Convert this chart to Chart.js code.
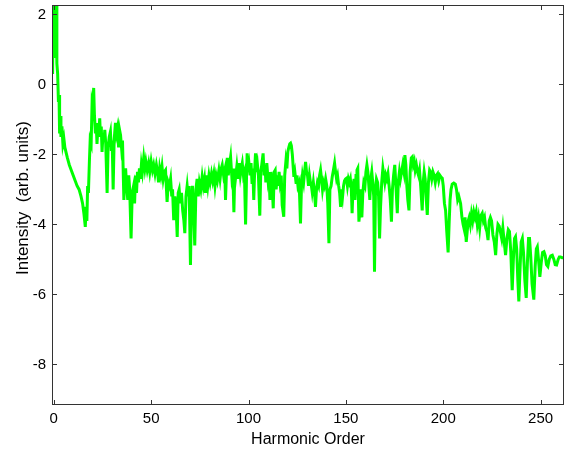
<!DOCTYPE html>
<html>
<head>
<meta charset="utf-8">
<script src="https://cdn.jsdelivr.net/npm/chart.js@4/dist/chart.umd.min.js"></script>
<style>
  body { margin: 0; background: #fff; }
  canvas { display: block; }
</style>
</head>
<body>
<canvas id="myChart" width="566" height="451"></canvas>
<script>
// values
const harmonic = [
  -0.6, -0.3, 0.2, 0.5, 0.9, 1.2, 1.6, 2.0, 2.4, 2.7,
  3.0, 3.3, 3.7, 4.2, 4.7, 5.2, 5.7, 7, 8, 9,
  10, 11, 12, 13, 14, 14.8, 15.5, 16.2, 16.6, 17,
  17.4, 17.8, 18.3, 18.7, 19.2, 19.7, 20.1, 20.5, 20.9, 21.4,
  21.8, 22.2, 22.6, 23.0, 23.6, 24.0, 24.4, 24.8, 25.3, 25.8,
  26.2, 26.7, 27.4, 27.9, 28.5, 29.1, 29.6, 30.0, 30.5, 31.0,
  31.7, 32.2, 32.7, 33.3, 33.8, 34.3, 34.8, 35.3, 36.0, 36.5,
  36.9, 37.4, 38.0, 38.5, 39.0, 39.7, 40.3, 41.0, 41.5, 42.0,
  42.5, 43.0, 43.5, 44.0, 44.5, 45.0, 45.5, 46.2, 46.8, 47.3,
  48.0, 48.7, 49.3, 50.0, 50.7, 51.3, 52.0, 52.7, 53.3, 53.8,
  54.4, 55.0, 55.6, 56.2, 56.8, 57.4, 58.2, 58.8, 59.4, 60.0,
  60.6, 61.0, 61.6, 62.2, 62.8, 63.4, 63.9, 64.4, 65.0, 65.6,
  66.2, 66.8, 67.3, 67.9, 68.5, 69.0, 69.5, 70.2, 70.7, 71.2,
  71.8, 72.4, 73.0, 73.6, 74.2, 74.8, 75.5, 76.2, 76.8, 77.4,
  77.9, 78.5, 79.1, 79.7, 80.3, 81.0, 81.6, 82.2, 82.8, 83.4,
  84.0, 84.8, 85.4, 86.0, 86.5, 87.2, 87.8, 88.2, 88.7, 89.1,
  89.6, 90.2, 90.8, 91.4, 91.9, 92.5, 93.0, 93.5, 94.0, 94.6,
  95.2, 95.8, 96.3, 96.8, 97.4, 97.9, 98.5, 99.0, 99.3, 99.8,
  100.3, 100.8, 101.3, 101.8, 102.2, 102.7, 103.2, 103.6, 104.1, 104.6,
  105.1, 105.8, 106.3, 106.8, 107.5, 108.0, 108.5, 108.9, 109.4, 110.0,
  110.5, 111.0, 111.5, 112.0, 112.7, 113.2, 113.7, 114.2, 114.7, 115.2,
  115.7, 116.2, 116.8, 117.3, 118.1, 118.6, 119.2, 119.7, 120.2, 120.7,
  121.2, 121.6, 122.0, 122.5, 123.0, 123.3, 123.8, 124.4, 124.9, 125.4,
  126.0, 126.7, 127.2, 127.7, 128.3, 128.8, 129.3, 129.8, 130.3, 130.8,
  131.3, 131.8, 132.3, 132.7, 133.3, 133.9, 134.4, 134.9, 135.4, 136.0,
  136.5, 137.0, 137.5, 138.0, 138.5, 139.0, 139.6, 140.2, 140.7, 141.3,
  141.8, 142.4, 143.0, 143.6, 144.2, 144.7, 145.2, 145.7, 146.3, 146.8,
  147.3, 147.8, 148.3, 148.8, 149.3, 149.8, 150.3, 150.8, 151.3, 151.8,
  152.3, 152.8, 153.2, 153.7, 154.2, 154.7, 155.2, 155.7, 156.1, 156.7,
  157.2, 157.7, 158.2, 158.7, 159.2, 159.8, 160.3, 160.8, 161.3, 161.8,
  162.3, 162.8, 163.3, 163.8, 164.3, 164.7, 165.2, 165.7, 166.3, 166.8,
  167.3, 167.8, 168.4, 169.0, 169.5, 170.0, 170.5, 171.0, 171.6, 172.2,
  172.8, 173.4, 173.9, 174.5, 175.1, 175.7, 176.4, 176.9, 177.5, 178.0,
  178.6, 179.2, 179.8, 180.3, 180.8, 181.3, 181.8, 182.4, 183.0, 183.6,
  184.1, 184.6, 185.1, 185.6, 186.2, 186.8, 187.3, 187.8, 188.4, 189.2,
  189.7, 190.2, 190.7, 191.2, 191.8, 192.4, 193.0, 193.5, 194.1, 194.7,
  195.3, 195.9, 196.5, 197.1, 197.7, 198.3, 198.9, 199.5, 200.0, 200.6,
  201.2, 201.8, 202.5, 203.0, 203.5, 204.0, 204.6, 205.4, 206.2, 206.8,
  207.4, 208.0, 208.9, 209.6, 210.2, 210.6, 211.2, 211.8, 212.3, 212.8,
  213.3, 213.9, 214.5, 215.1, 215.7, 216.3, 216.9, 217.5, 218.1, 218.7,
  219.3, 220.0, 220.6, 221.2, 221.8, 222.4, 223.0, 223.6, 224.2, 224.8,
  225.5, 226.2, 226.9, 227.5, 228.1, 228.7, 229.3, 230.0, 230.6, 231.3,
  232.0, 232.7, 233.4, 234.0, 234.7, 235.4, 236.0, 236.6, 237.1, 237.7,
  238.3, 238.8, 239.4, 240.0, 240.6, 241.2, 241.9, 242.6, 243.2, 243.8,
  244.3, 244.9, 245.6, 246.5, 247.2, 247.8, 248.3, 248.9, 249.6, 250.3,
  251.0, 251.7, 252.4, 253.0, 253.7, 254.4, 255.2, 256.0, 256.8, 257.5,
  258.2, 259.0, 259.6, 260.2, 261.0, 262.0
]
const intensity = [
  0.3, 2.4, 0.8, 2.4, 1.2, 2.4, 0.6, 0.3, -0.5, -0.3,
  -1.4, -0.9, -1.5, -1.2, -1.7, -1.55, -1.8, -2.1, -2.3, -2.45,
  -2.6, -2.75, -2.9, -3.0, -3.2, -3.4, -3.7, -4.07, -3.5, -3.9,
  -2.9, -3.1, -2.2, -1.6, -1.7, -0.5, -0.6, -0.1, -0.9, -1.4,
  -1.1, -1.7, -1.3, -1.5, -0.97, -1.5, -1.2, -1.93, -1.4, -1.6,
  -1.3, -1.7, -3.1, -1.8, -1.5, -1.35, -1.9, -1.6, -3.0, -1.6,
  -1.1, -1.4, -1.25, -1.8, -1.3, -1.45, -1.8, -1.6, -3.3, -2.6,
  -2.4, -2.9, -3.3, -2.6, -3.0, -4.4, -3.1, -2.9, -3.4, -2.6,
  -3.1, -2.5, -2.8, -2.4, -2.7, -2.3, -2.5, -2.1, -2.4, -2.2,
  -2.45, -2.25, -2.5, -2.2, -2.45, -2.3, -2.55, -2.3, -2.5, -2.8,
  -2.4, -2.6, -2.35, -2.7, -2.5, -2.45, -3.36, -2.8, -2.9, -2.7,
  -3.2, -3.0, -3.88, -3.2, -3.5, -4.36, -3.1, -3.0, -3.4, -3.1,
  -3.6, -3.88, -4.25, -3.2, -2.9, -3.2, -2.9, -5.16, -3.4, -2.9,
  -3.5, -4.6, -3.0, -2.7, -3.2, -2.8, -3.0, -2.64, -2.9, -2.7,
  -3.1, -2.6, -2.9, -2.6, -2.8, -2.55, -2.75, -2.55, -2.9, -2.6,
  -2.75, -2.45, -2.7, -2.4, -2.3, -2.6, -2.45, -3.3, -2.5, -2.1,
  -2.6, -2.3, -2.07, -2.6, -2.4, -3.65, -2.4, -2.6, -2.35, -2.7,
  -2.25, -2.6, -2.4, -2.25, -2.6, -2.5, -4.0, -2.6, -1.97, -2.5,
  -2.3, -2.6, -2.25, -2.8, -2.4, -3.3, -2.4, -1.97, -2.5, -2.3,
  -2.6, -3.75, -2.5, -2.3, -1.97, -2.6, -2.3, -2.8, -2.25, -2.7,
  -2.5, -3.3, -2.5, -2.7, -3.54, -2.5, -2.45, -3.0, -2.6, -2.9,
  -2.5, -2.8, -2.6, -3.45, -3.78, -2.6, -2.2, -2.4, -1.92, -1.8,
  -1.7, -1.68, -1.75, -2.0, -2.4, -2.64, -2.5, -2.8, -2.6, -2.9,
  -2.8, -3.97, -2.9, -2.6, -2.8, -2.5, -2.21, -2.5, -2.6, -2.9,
  -2.6, -2.8, -2.9, -3.07, -2.8, -3.1, -3.5, -3.0, -2.8, -2.9,
  -2.6, -2.45, -2.7, -3.0, -2.8, -2.9, -2.7, -2.9, -3.4, -4.54,
  -3.0, -2.9, -2.64, -2.45, -2.25, -2.5, -2.7, -2.6, -2.9, -3.1,
  -3.5, -3.0, -3.2, -2.9, -2.75, -2.7, -2.68, -2.9, -2.7, -2.8,
  -2.7, -3.0, -3.68, -2.9, -2.7, -3.3, -2.6, -2.45, -2.4, -3.92,
  -3.6, -3.0, -3.8, -3.1, -2.8, -2.9, -2.5, -2.3, -2.5, -2.9,
  -3.3, -2.7, -2.5, -2.8, -3.2, -5.35, -3.0, -2.7, -2.8, -3.2,
  -4.4, -3.5, -2.8, -2.4, -2.6, -2.8, -2.6, -2.7, -2.55, -2.9,
  -3.3, -3.92, -3.0, -2.6, -2.3, -2.9, -3.68, -2.8, -2.5, -2.7,
  -2.5, -2.3, -2.5, -2.02, -2.3, -2.9, -3.3, -3.6, -2.5, -2.1,
  -2.07, -2.3, -2.2, -2.45, -2.3, -2.5, -2.6, -2.45, -2.9, -3.6,
  -2.8, -2.5, -2.7, -3.2, -3.73, -2.8, -2.45, -2.5, -2.7, -2.5,
  -2.6, -2.8, -2.6, -2.55, -2.75, -2.6, -2.65, -2.68, -2.9, -3.4,
  -3.6, -4.2, -4.8, -4.0, -3.3, -3.0, -2.85, -2.82, -2.85, -3.0,
  -3.3, -3.2, -3.4, -3.8, -4.0, -4.1, -3.8, -4.5, -4.2, -3.9,
  -3.8, -4.0, -3.7, -3.9, -3.65, -3.8, -3.65, -4.0, -3.8, -4.1,
  -3.75, -3.68, -3.9, -3.8, -4.1, -4.2, -4.45, -3.9, -3.8, -3.9,
  -4.3, -4.5, -4.88, -4.3, -4.0, -4.05, -4.2, -4.4, -4.1, -4.5,
  -4.88, -4.4, -4.15, -4.2, -4.8, -5.88, -5.0, -4.4, -4.35, -4.7,
  -5.6, -6.2, -5.3, -4.5, -4.4, -4.8, -5.6, -6.1, -5.1, -4.4,
  -4.4, -4.9, -5.7, -6.15, -5.2, -4.7, -4.64, -5.0, -5.5, -5.1,
  -4.8, -4.78, -4.9, -5.15, -5.2, -5.0, -4.9, -4.88, -5.0, -5.15,
  -5.16, -5.0, -4.93, -4.93, -4.95, -4.95
]
const xTicks = [0, 50, 100, 150, 200, 250]
const yTicks = [-8, -6, -4, -2, 0, 2]
const xLabel = 'Harmonic Order'
const yLabel = 'Intensity  (arb. units)'

const points = harmonic.map((h, i) => ({x: h, y: intensity[i]}))

// frame, inward ticks on all four sides and the axis titles
const framePlugin = {
    id: 'frame',
    afterDraw(chart) {
        const ctx = chart.ctx
        const a = chart.chartArea
        const sx = chart.scales.x
        const sy = chart.scales.y
        ctx.save()
        ctx.strokeStyle = '#333'
        ctx.lineWidth = 1
        ctx.strokeRect(a.left + 0.5, a.top + 0.5, a.right - a.left - 1, a.bottom - a.top - 1)
        ctx.beginPath()
        xTicks.forEach(v => {
            const px = Math.round(sx.getPixelForValue(v)) + 0.5
            ctx.moveTo(px, a.bottom); ctx.lineTo(px, a.bottom - 5)
            ctx.moveTo(px, a.top); ctx.lineTo(px, a.top + 5)
        })
        yTicks.forEach(v => {
            const py = Math.round(sy.getPixelForValue(v)) + 0.5
            ctx.moveTo(a.left, py); ctx.lineTo(a.left + 5, py)
            ctx.moveTo(a.right, py); ctx.lineTo(a.right - 5, py)
        })
        ctx.stroke()

        ctx.fillStyle = '#000'
        ctx.font = '16px "Liberation Sans", Arial, sans-serif'
        ctx.textAlign = 'center'
        ctx.textBaseline = 'alphabetic'
        ctx.fillText(xLabel, (a.left + a.right) / 2, 444)

        ctx.translate(28, 198)
        ctx.rotate(-Math.PI / 2)
        ctx.font = '17px "Liberation Sans", Arial, sans-serif'
        ctx.fillText(yLabel, 0, 0)
        ctx.restore()
    }
}

const ctxEL = document.getElementById('myChart').getContext('2d')
new Chart(ctxEL, {
    type: 'line',
    data: {
        datasets: [{
            label: 'spectrum',
            data: points,
            borderColor: '#00ff00',
            borderWidth: 3,
            pointRadius: 0,
            tension: 0,
            fill: false,
            clip: 0,
            borderJoinStyle: 'miter'
        }]
    },
    options: {
        responsive: false,
        animation: false,
        layout: {padding: {top: 5, right: 2, left: 0, bottom: 0}},
        plugins: {legend: {display: false}, tooltip: {enabled: false}},
        scales: {
            x: {
                type: 'linear',
                min: -0.9,
                max: 262,
                grid: {display: false, drawTicks: false},
                border: {display: false},
                afterFit: s => {
                    s.height = 46
                    s.paddingLeft = 0
                    s.paddingRight = 0
                },
                afterBuildTicks: s => { s.ticks = xTicks.map(v => ({value: v})) },
                ticks: {
                    padding: 5,
                    color: '#000',
                    maxRotation: 0,
                    autoSkip: false,
                    font: {family: '"Liberation Sans", Arial, sans-serif', size: 15}
                }
            },
            y: {
                min: -9.16,
                max: 2.27,
                grid: {display: false, drawTicks: false},
                border: {display: false},
                afterFit: s => {
                    s.width = 52
                    s.paddingTop = 0
                    s.paddingBottom = 0
                },
                afterBuildTicks: s => { s.ticks = yTicks.map(v => ({value: v})) },
                ticks: {
                    padding: 6,
                    color: '#000',
                    autoSkip: false,
                    font: {family: '"Liberation Sans", Arial, sans-serif', size: 15}
                }
            }
        }
    },
    plugins: [framePlugin]
})
</script>
</body>
</html>
